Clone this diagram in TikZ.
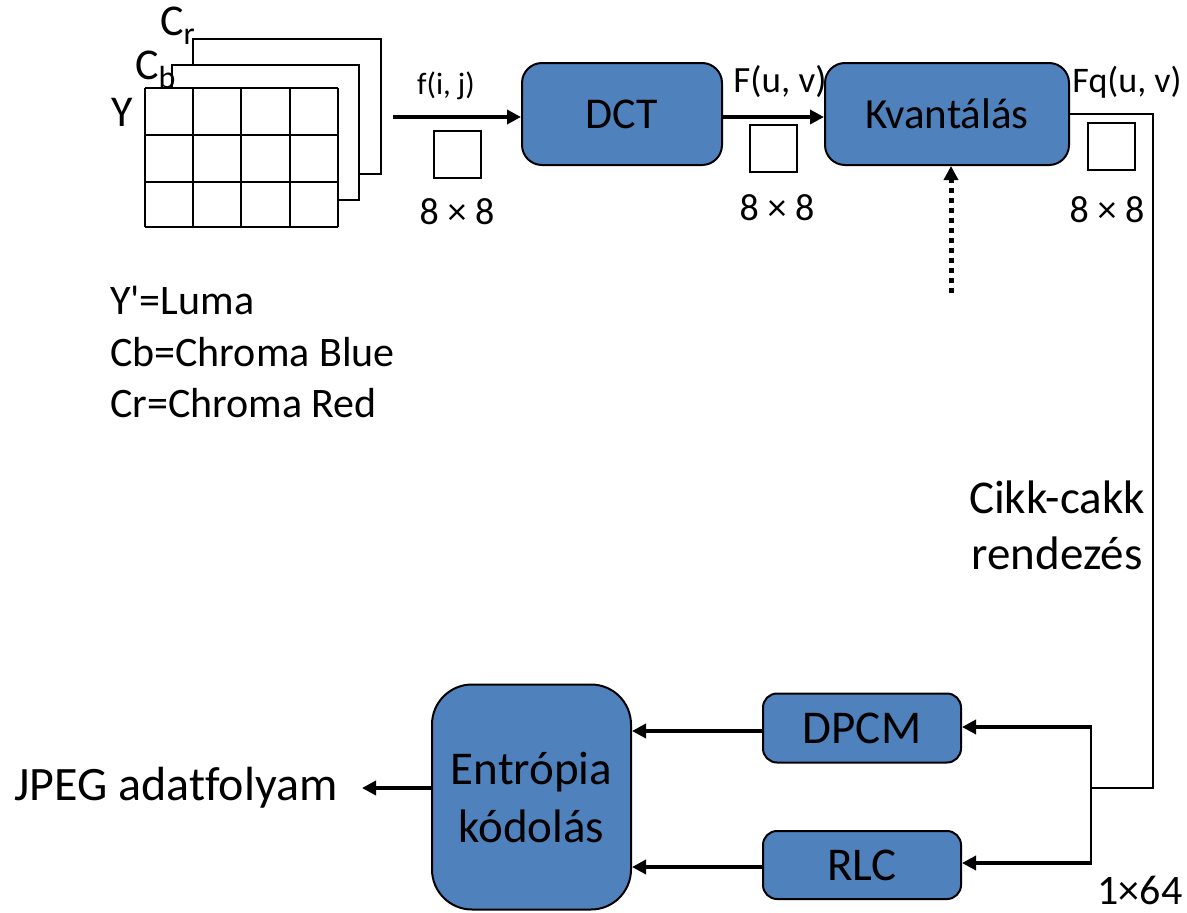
\documentclass[tikz,border=0pt]{standalone}
\usepackage{fontspec}
\newfontfamily\cfont{Carlito}[Ligatures=NoCommon]
\usetikzlibrary{arrows.meta}
\definecolor{boxblue}{RGB}{79,129,189}
\tikzset{
  block/.style={draw=black, line width=2pt, fill=boxblue, inner sep=0pt, align=center},
  thin line/.style={line width=2pt},
  flow/.style={line width=4pt, -{Triangle[length=14pt,width=14pt]}},
  qflow/.style={line width=5pt, dash pattern=on 5pt off 5pt, -{Triangle[length=14pt,width=14pt]}},
  smallsq/.style={draw=black, line width=2pt, minimum size=47pt, inner sep=0pt},
  lbl/.style={inner sep=0pt},
}
\newcommand{\fsz}[1]{\fontsize{#1}{#1}\selectfont}
\begin{document}
\begin{tikzpicture}[x=1pt,y=-1pt, every node/.append style={font=\cfont}]
\useasboundingbox (0,0) rectangle (1187,913);
% --- Y / Cb / Cr planes
\foreach \xx in {145,193,241,290,338} \draw[thin line] (\xx,88) -- (\xx,227);
\foreach \yy in {88,135,182,227} \draw[thin line] (145,\yy) -- (338,\yy);
\draw[thin line] (172,88) -- (172,65) -- (359,65) -- (359,200) -- (338,200);
\draw[thin line] (193,65) -- (193,39) -- (381,39) -- (381,174) -- (359,174);
\node[lbl, anchor=west] (ylab) at (111,112) {\fsz{44}Y};
\node[lbl, anchor=west] (cblab) at (135,70) {\fsz{44}C\raisebox{-9pt}{\fsz{32}b}};
\node[lbl, anchor=west] (crlab) at (160,26) {\fsz{44}C\raisebox{-9pt}{\fsz{32}r}};
% --- legend
\node[lbl, anchor=west] (leg1) at (110,300) {\fsz{42}Y'=Luma};
\node[lbl, anchor=west] (leg2) at (110,352) {\fsz{42}Cb=Chroma Blue};
\node[lbl, anchor=west] (leg3) at (110,403) {\fsz{42}Cr=Chroma Red};
% --- blocks
\node[block, rounded corners=20pt, minimum width=200pt, minimum height=102pt] (dct) at (622,114) {\fsz{44}DCT};
\node[block, rounded corners=20pt, minimum width=244pt, minimum height=102pt] (kv) at (947,114) {\fsz{43}Kvantálás};
\node[block, rounded corners=40pt, minimum width=199pt, minimum height=225pt,
      font=\cfont\fontsize{47}{58}\selectfont] (ent) at (531.5,797) {Entrópia\\kódolás};
\node[block, rounded corners=14pt, minimum width=198pt, minimum height=69pt] (dpcm) at (862,728) {\fsz{47}DPCM};
\node[block, rounded corners=14pt, minimum width=198pt, minimum height=68pt] (rlc) at (862,865) {\fsz{47}RLC};
% --- small squares and labels
\node[smallsq] (sq1) at (457,154) {};
\node[smallsq] (sq2) at (773,148) {};
\node[smallsq] (sq3) at (1111,146) {};
\node[lbl] (fij) at (446,86) {\fsz{31}f(i, j)};
\node[lbl] (fuv) at (780,82) {\fsz{37}F(u, v)};
\node[lbl] (fquv) at (1127,82) {\fsz{36}Fq(u, v)};
\node[lbl] (n1) at (457,212) {\fsz{38}8 × 8};
\node[lbl] (n2) at (777,208) {\fsz{38}8 × 8};
\node[lbl] (n3) at (1107,210) {\fsz{38}8 × 8};
\node[lbl, align=center, font=\cfont\fontsize{47}{56}\selectfont] (zz) at (1057,525) {Cikk-cakk\\rendezés};
\node[lbl] (jpeg) at (176,788) {\fsz{48}JPEG adatfolyam};
\node[lbl] (n64) at (1140,890) {\fsz{42}1×64};
% --- connectors
\coordinate (fin) at (393,117);
\coordinate (qin) at (951,293);
\coordinate (tr) at (1153,114);
\coordinate (br) at (1153,788);
\coordinate (bm) at (1091,788);
\coordinate (jout) at (362,788);
\draw[flow] (fin) -- (fin -| dct.west);
\draw[flow] (dct.east |- fin) -- (fin -| kv.west);
\draw[qflow] (qin) -- (qin |- kv.south);
\draw[thin line] (kv.east |- tr) -- (tr) -- (br) -- (bm);
\draw[thin line] (1091,727) -- (1091,863);
\draw[flow] (1092,727) -- (dpcm.east |- 0,727);
\draw[flow] (1092,863) -- (rlc.east |- 0,863);
\draw[flow] (dpcm.west |- 0,731) -- (ent.east |- 0,731);
\draw[flow] (rlc.west |- 0,867) -- (ent.east |- 0,867);
\draw[flow] (ent.west |- jout) -- (jout);
\end{tikzpicture}
\end{document}
